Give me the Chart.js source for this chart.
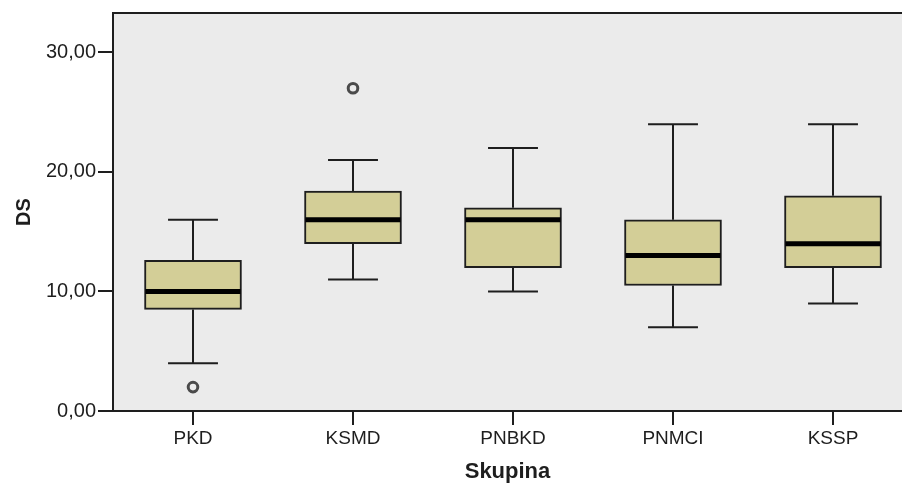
<!DOCTYPE html>
<html>
<head>
<meta charset="utf-8">
<script src="https://cdn.jsdelivr.net/npm/chart.js@4/dist/chart.umd.min.js"></script>
<style>
  html, body { margin: 0; padding: 0; background: #ffffff; }
  #wrap { width: 902px; height: 485px; }
</style>
</head>
<body>
<div id="wrap"><canvas id="c" width="902" height="485"></canvas></div>
<script>
// ---- data ----
const categories   = ['PKD', 'KSMD', 'PNBKD', 'PNMCI', 'KSSP'];
const whiskerLow   = [4, 11, 10, 7, 9];
const quartile1    = [8.5, 14, 12, 10.5, 12];
const medians      = [10, 16, 16, 13, 14];
const quartile3    = [12.6, 18.4, 17, 16, 18];
const whiskerHigh  = [16, 21, 22, 24, 24];
const outlierCat   = [0, 1];
const outlierValue = [2, 27];
const yTicks       = [0, 10, 20, 30];

// ---- style constants ----
const CAP_HALF = 0.156;     // half-width of whisker caps in category units
const MED_HALF = 0.297;     // half-width of median line in category units
const LINE_COL = '#1e1e1e';
const TEXT_COL = '#1e1e1e';

// ---- build datasets from the arrays ----
const boxData = categories.map((c, i) => ({ x: i, y: [quartile1[i], quartile3[i]] }));

const stemData = [];
const capData = [];
const medData = [];
categories.forEach((c, i) => {
  stemData.push({ x: i, y: whiskerLow[i] }, { x: i, y: quartile1[i] }, { x: i, y: null });
  stemData.push({ x: i, y: quartile3[i] }, { x: i, y: whiskerHigh[i] }, { x: i, y: null });
  capData.push({ x: i - CAP_HALF, y: whiskerLow[i] }, { x: i + CAP_HALF, y: whiskerLow[i] }, { x: i, y: null });
  capData.push({ x: i - CAP_HALF, y: whiskerHigh[i] }, { x: i + CAP_HALF, y: whiskerHigh[i] }, { x: i, y: null });
  medData.push({ x: i - MED_HALF, y: medians[i] }, { x: i + MED_HALF, y: medians[i] }, { x: i, y: null });
});
const outlierData = outlierCat.map((c, k) => ({ x: c, y: outlierValue[k] }));

const plotBg = {
  id: 'plotBg',
  beforeDraw(chart) {
    const { ctx, chartArea: a } = chart;
    ctx.save();
    ctx.fillStyle = '#ebebeb';
    ctx.fillRect(a.left, a.top, a.right - a.left, a.bottom - a.top);
    ctx.strokeStyle = LINE_COL;
    ctx.lineWidth = 2;
    ctx.beginPath();
    ctx.moveTo(a.left, a.top);
    ctx.lineTo(a.right, a.top);
    ctx.stroke();
    ctx.restore();
  }
};

new Chart(document.getElementById('c'), {
  type: 'bar',
  data: {
    datasets: [
      {
        type: 'line', label: 'stems', data: stemData, order: 4,
        borderColor: LINE_COL, borderWidth: 2, pointRadius: 0, spanGaps: false, fill: false
      },
      {
        type: 'line', label: 'caps', data: capData, order: 4,
        borderColor: LINE_COL, borderWidth: 2, pointRadius: 0, spanGaps: false, fill: false
      },
      {
        type: 'bar', label: 'box', data: boxData, order: 3,
        backgroundColor: '#d3ce97', borderColor: LINE_COL, borderWidth: 2,
        borderSkipped: false, barThickness: 97
      },
      {
        type: 'line', label: 'median', data: medData, order: 1,
        borderColor: '#000000', borderWidth: 5, pointRadius: 0, spanGaps: false, fill: false,
        borderCapStyle: 'butt'
      },
      {
        type: 'scatter', label: 'outliers', data: outlierData, order: 0,
        pointRadius: 4.8, pointBorderWidth: 3, pointBorderColor: '#4a4a4a',
        pointBackgroundColor: 'rgba(235,235,235,1)', showLine: false
      }
    ]
  },
  options: {
    responsive: false,
    devicePixelRatio: 1,
    animation: false,
    layout: { autoPadding: false, padding: { top: 13, right: 0, left: 0, bottom: 0 } },
    plugins: { legend: { display: false }, tooltip: { enabled: false } },
    scales: {
      x: {
        type: 'linear',
        min: -0.5,
        max: 4.43125,
        offset: false,
        afterBuildTicks(scale) { scale.ticks = categories.map((c, i) => ({ value: i })); },
        afterFit(scale) { scale.height = 74; scale.paddingLeft = 0; scale.paddingRight = 0; },
        grid: { offset: false, drawOnChartArea: false, drawTicks: true, tickLength: 14, color: LINE_COL, lineWidth: 2 },
        border: { display: true, color: LINE_COL, width: 2 },
        ticks: {
          autoSkip: false, maxRotation: 0, padding: 2,
          color: TEXT_COL, font: { family: 'Liberation Sans, Arial, sans-serif', size: 19 },
          callback: (v) => categories[v]
        },
        title: {
          display: true, text: 'Skupina', color: TEXT_COL,
          font: { family: 'Liberation Sans, Arial, sans-serif', size: 22, weight: 'bold', lineHeight: 1.2 },
          padding: { top: 0, bottom: 0 }
        }
      },
      y: {
        type: 'linear',
        min: 0,
        max: 33.3,
        afterBuildTicks(scale) { scale.ticks = yTicks.map(v => ({ value: v })); },
        afterFit(scale) { scale.width = 113; scale.paddingTop = 0; scale.paddingBottom = 0; },
        grid: { drawOnChartArea: false, drawTicks: true, tickLength: 15, color: LINE_COL, lineWidth: 2 },
        border: { display: true, color: LINE_COL, width: 2 },
        ticks: {
          padding: 2, color: TEXT_COL,
          font: { family: 'Liberation Sans, Arial, sans-serif', size: 20 },
          callback: (v) => v.toFixed(2).replace('.', ',')
        },
        title: {
          display: true, text: 'DS', color: TEXT_COL,
          font: { family: 'Liberation Sans, Arial, sans-serif', size: 20, weight: 'bold', lineHeight: 1.2 },
          padding: { top: 12, bottom: 0 }
        }
      }
    }
  },
  plugins: [plotBg]
});
</script>
</body>
</html>
